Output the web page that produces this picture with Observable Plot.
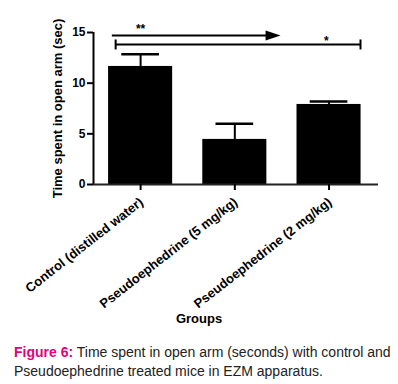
<!DOCTYPE html>
<html><head><meta charset="utf-8">
<script src="https://cdn.jsdelivr.net/npm/d3@7"></script>
<script src="https://cdn.jsdelivr.net/npm/@observablehq/plot@0.6"></script>
<style>
body{margin:0;background:#fff;font-family:"Liberation Sans",Arial,sans-serif;}
#cap{margin:9px 5px 0 14px;font-size:14px;line-height:19px;color:#222;white-space:nowrap;}
#cap .fig{color:#e5007d;font-weight:bold;}
</style></head><body>
<div id="chart"></div>
<div id="cap"><span class="fig">Figure 6:</span><span> Time spent in open arm (seconds) with control and</span><br><span>Pseudoephedrine treated mice in EZM apparatus.</span></div>
<script>
const categories = ["Control (distilled water)", "Pseudoephedrine (5 mg/kg)", "Pseudoephedrine (2 mg/kg)"];
const means = [11.65, 4.45, 7.9];
const sems = [1.2, 1.55, 0.3];
const yTicks = [0, 5, 10, 15];
const yTitle = "Time spent in open arm (sec)";
const xTitle = "Groups";
// significance annotations (in axis units)
const sigLabels = ["**", "*"];
const sigLabelX = [0, 1.97];
const sigLabelY = [15.3, 14.1];
const sigFrom = [-0.3, -0.265];
const sigTo = [1.475, 2.334];
const sigLineY = [14.7, 13.82];
const sigArrow = [true, false];

const xDomain = [-0.5, 2.525];
const data = categories.map((c, i) => ({i, c, mean: means[i], top: means[i] + sems[i]}));
const sig = sigLabels.map((s, k) => ({s, lx: sigLabelX[k], ly: sigLabelY[k], x1: sigFrom[k], x2: sigTo[k], y: sigLineY[k], arrow: sigArrow[k]}));
const font = "Liberation Sans, Arial, sans-serif";
const arrowHead = {draw(ctx) { ctx.moveTo(1, 0); ctx.lineTo(-14, -5); ctx.lineTo(-14, 5); ctx.closePath(); }};
const capBar = {draw(ctx) { ctx.moveTo(-1, -5); ctx.lineTo(1, -5); ctx.lineTo(1, 5); ctx.lineTo(-1, 5); ctx.closePath(); }};

const chart = Plot.plot({
  width: 398, height: 334,
  marginLeft: 93, marginRight: 20, marginTop: 32, marginBottom: 150,
  style: {fontFamily: font, background: "#fff", color: "#000"},
  x: {domain: xDomain, axis: null},
  y: {domain: [0, 15], axis: null},
  marks: [
    Plot.rect(data, {x1: d => d.i - 0.34, x2: d => d.i + 0.34, y1: 0, y2: "mean", fill: "#000"}),
    Plot.ruleX(data, {x: "i", y1: "mean", y2: "top", stroke: "#000", strokeWidth: 2}),
    Plot.ruleY(data, {y: "top", x1: d => d.i - 0.2, x2: d => d.i + 0.2, stroke: "#000", strokeWidth: 2.5}),
    Plot.axisY({ticks: yTicks, tickSize: 6, tickPadding: 2, fontSize: 12, fontWeight: "bold", strokeWidth: 2, label: null, fill: "#000"}),
    Plot.ruleX([xDomain[0]], {y1: 0, y2: 15, stroke: "#000", strokeWidth: 2}),
    Plot.ruleY([0], {stroke: "#222", strokeWidth: 2}),
    Plot.axisX({ticks: data.map(d => d.i), tickFormat: () => "", tickSize: 6, strokeWidth: 2, label: null}),
    Plot.text(data, {x: "i", y: 0, text: "c", rotate: -38, textAnchor: "end", lineAnchor: "middle", dx: 1, dy: 16, fontSize: 13, fontWeight: "bold", fill: "#000"}),
    Plot.text([xTitle], {frameAnchor: "bottom", textAnchor: "middle", lineAnchor: "middle", dx: -37, dy: 134, fontSize: 13, fontWeight: "bold", fill: "#000"}),
    Plot.text([yTitle], {frameAnchor: "left", textAnchor: "middle", lineAnchor: "middle", rotate: -90, dx: -36, fontSize: 13, fontWeight: "bold", fill: "#000"}),
    // significance brackets
    Plot.ruleY(sig, {y: "y", x1: "x1", x2: d => d.arrow ? d.x2 - 0.1 : d.x2, stroke: "#000", strokeWidth: 2}),
    Plot.dot(sig.filter(d => d.arrow), {x: "x2", y: "y", symbol: arrowHead, fill: "#000", stroke: "none"}),
    Plot.dot(sig.filter(d => !d.arrow), {x: "x1", y: "y", symbol: capBar, fill: "#000", stroke: "none"}),
    Plot.dot(sig.filter(d => !d.arrow), {x: "x2", y: "y", symbol: capBar, fill: "#000", stroke: "none"}),
    Plot.text(sig, {x: "lx", y: "ly", text: "s", fontSize: 12, fontWeight: "bold", fill: "#000"})
  ]
});
document.getElementById("chart").appendChild(chart);
</script>
</body></html>
